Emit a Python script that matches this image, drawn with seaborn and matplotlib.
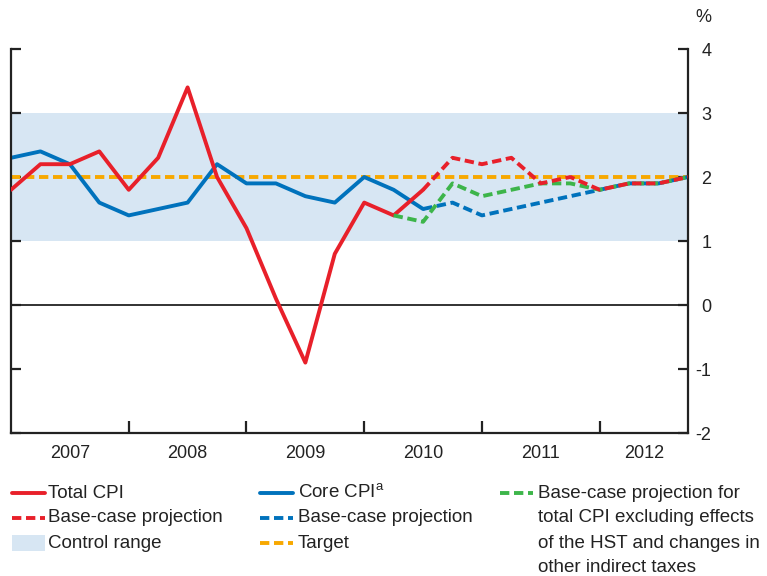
import numpy as np
import pandas as pd
import matplotlib
matplotlib.use("Agg")
import matplotlib.pyplot as plt
from matplotlib.lines import Line2D
from matplotlib.patches import Rectangle
import seaborn as sns

# Quarterly data, 2007Q1 .. 2012Q4 (index 0..23)
total_cpi = [1.8, 2.2, 2.2, 2.4, 1.8, 2.3, 3.4, 2.0, 1.2, 0.1, -0.9, 0.8, 1.6, 1.4, 1.8]
total_proj = [1.8, 2.3, 2.2, 2.3, 1.9, 2.0, 1.8, 1.9, 1.9, 2.0]
core_cpi = [2.3, 2.4, 2.2, 1.6, 1.4, 1.5, 1.6, 2.2, 1.9, 1.9, 1.7, 1.6, 2.0, 1.8, 1.5]
core_proj = [1.5, 1.6, 1.4, 1.5, 1.6, 1.7, 1.8, 1.9, 1.9, 2.0]
excl_proj = [1.4, 1.3, 1.9, 1.7, 1.8, 1.9, 1.9, 1.8, 1.9, 1.9, 2.0]
years = ["2007", "2008", "2009", "2010", "2011", "2012"]
target = 2.0
control_range = (1.0, 3.0)

RED = "#E8202A"
BLUE = "#0072BC"
GREEN = "#3DB54A"
ORANGE = "#F7A800"
SHADE = "#D7E6F3"
INK = "#222222"

sns.set_style("white")
plt.rcParams["font.family"] = ["Liberation Sans", "DejaVu Sans"]
plt.rcParams["mathtext.fontset"] = "custom"
plt.rcParams["mathtext.rm"] = "Liberation Sans"

W, H = 767, 576
fig = plt.figure(figsize=(W / 100, H / 100), dpi=100)
ax = fig.add_axes([11 / W, 1 - 433 / H, (688 - 11) / W, (433 - 49) / H])

n = 24
dash = (0, (2.4, 1.2))
lw = 2.8
TICK_FS = 13
LEG_FS = 13.5


def series(vals, start):
    return pd.DataFrame({"q": np.arange(start, start + len(vals)), "v": vals})


ax.axhspan(*control_range, color=SHADE, lw=0, zorder=0)
ax.axhline(target, color=ORANGE, lw=lw, linestyle=dash, zorder=1)
ax.axhline(0, color=INK, lw=1.3, zorder=1)

sns.lineplot(data=series(core_cpi, 0), x="q", y="v", ax=ax, color=BLUE, lw=lw, zorder=2)
sns.lineplot(data=series(total_cpi, 0), x="q", y="v", ax=ax, color=RED, lw=lw, zorder=3)
sns.lineplot(data=series(core_proj, 14), x="q", y="v", ax=ax, color=BLUE, lw=lw,
             linestyle=dash, zorder=2)
sns.lineplot(data=series(excl_proj, 13), x="q", y="v", ax=ax, color=GREEN, lw=lw,
             linestyle=dash, zorder=3)
sns.lineplot(data=series(total_proj, 14), x="q", y="v", ax=ax, color=RED, lw=lw,
             linestyle=dash, zorder=4)

ax.set_xlim(0, n - 1)
ax.set_ylim(-2, 4)
ax.set_xlabel("")
ax.set_ylabel("")

for s in ["left", "right", "bottom"]:
    ax.spines[s].set_visible(True)
    ax.spines[s].set_color(INK)
    ax.spines[s].set_linewidth(1.6)
ax.spines["top"].set_visible(False)

ax.set_yticks(range(-2, 5))
ax.set_yticklabels([str(v) for v in range(-2, 5)])
ax.tick_params(axis="y", left=True, right=True, labelleft=False, labelright=True,
               direction="in", length=7, width=1.6, color=INK, pad=17,
               labelsize=TICK_FS, labelcolor=INK)
for lab in ax.get_yticklabels():
    lab.set_horizontalalignment("right")

ax.set_xticks([4, 8, 12, 16, 20])
ax.set_xticklabels([])
ax.set_xticks([2, 6, 10, 14, 18, 21.5], minor=True)
ax.set_xticklabels(years, minor=True)
ax.tick_params(axis="x", which="major", direction="in", length=9, width=1.6,
               color=INK, bottom=True)
ax.tick_params(axis="x", which="minor", length=0, pad=9, labelsize=TICK_FS,
               labelcolor=INK)

fig.text(703 / W, 1 - 18 / H, "%", ha="center", va="center", fontsize=TICK_FS, color=INK)


# legend drawn by hand in figure pixels
def fx(x):
    return x / W


def fy(y):
    return 1 - y / H


def handle(x, y, color, style):
    fig.add_artist(Line2D([fx(x), fx(x + 33)], [fy(y), fy(y)], color=color, lw=lw,
                          linestyle=style, transform=fig.transFigure))


def label(x, y, s):
    fig.text(fx(x), fy(y), s, ha="left", va="center", fontsize=LEG_FS, color=INK)


rows = [493, 518, 543, 567]
handle(12, rows[0], RED, "-")
label(48, rows[0], "Total CPI")
handle(12, rows[1], RED, dash)
label(48, rows[1], "Base-case projection")
fig.add_artist(Rectangle((fx(12), fy(rows[2] + 8)), 33 / W, 16 / H, color=SHADE,
                         transform=fig.transFigure, lw=0))
label(48, rows[2], "Control range")

handle(260, rows[0], BLUE, "-")
label(298, rows[0], r"Core CPI$^{\mathrm{a}}$")
handle(260, rows[1], BLUE, dash)
label(298, rows[1], "Base-case projection")
handle(260, rows[2], ORANGE, dash)
label(298, rows[2], "Target")

handle(500, rows[0], GREEN, dash)
col3 = ["Base-case projection for", "total CPI excluding effects",
        "of the HST and changes in", "other indirect taxes"]
for y, s in zip(rows, col3):
    label(538, y, s)

fig.savefig("out.png", dpi=100)
